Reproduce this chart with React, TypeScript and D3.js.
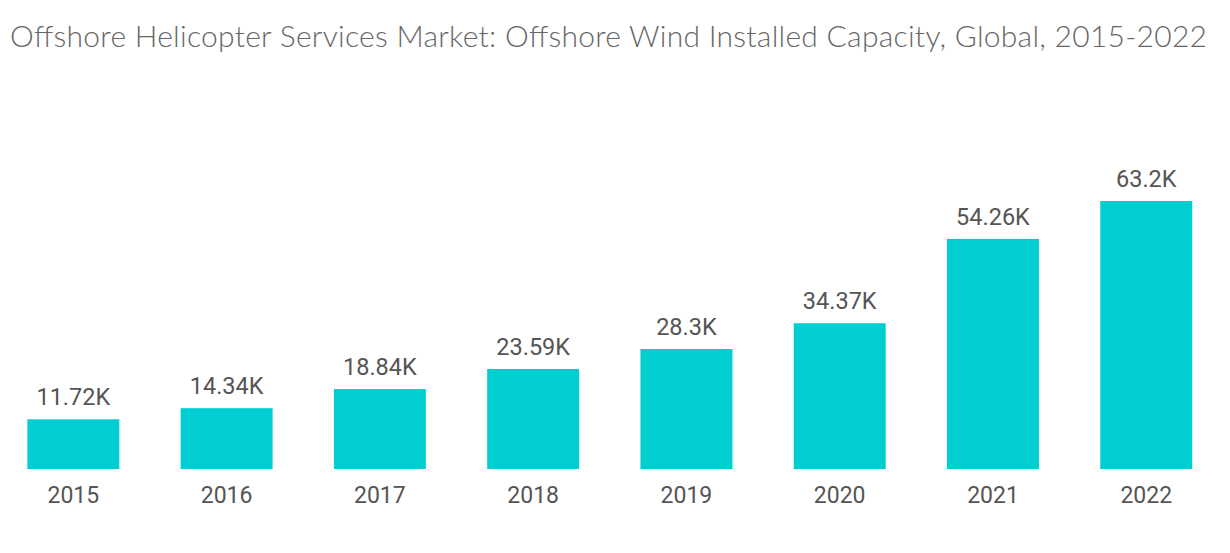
import * as d3 from 'd3'

const years = ['2015', '2016', '2017', '2018', '2019', '2020', '2021', '2022']
const capacity = [11.72, 14.34, 18.84, 23.59, 28.3, 34.37, 54.26, 63.2]
const valueLabels = ['11.72K', '14.34K', '18.84K', '23.59K', '28.3K', '34.37K', '54.26K', '63.2K']

const W = 1230
const H = 553
const baseline = 469

export default function App() {
  const x = d3.scaleBand<string>()
    .domain(years)
    .range([-3.3, 1222.9])
    .paddingInner(0.4)
    .paddingOuter(0.2)

  const y = d3.scaleLinear()
    .domain([0, 63.2])
    .range([baseline, 201])

  return (
    <svg width={W} height={H} style={{ position: 'absolute', left: 0, top: 0, background: '#fff' }}>
      <text x={10} y={47} fill="#666" fontFamily="Lato, sans-serif" fontSize={30} fontWeight={300}
        textLength={1197} lengthAdjust="spacing">
        Offshore Helicopter Services Market: Offshore Wind Installed Capacity, Global, 2015-2022
      </text>
      {years.map((yr, i) => {
        const bx = x(yr) ?? 0
        const cx = bx + x.bandwidth() / 2
        return (
          <g key={yr}>
            <rect x={bx} y={y(capacity[i])} width={x.bandwidth()} height={baseline - y(capacity[i])} fill="#00ced1" />
            <text x={cx} y={y(capacity[i]) - 14} textAnchor="middle" fill="#555" fontFamily="Roboto, sans-serif" fontSize={23.5}>
              {valueLabels[i]}
            </text>
            <text x={cx} y={503} textAnchor="middle" fill="#555" fontFamily="Roboto, sans-serif" fontSize={23}>
              {yr}
            </text>
          </g>
        )
      })}
    </svg>
  )
}
